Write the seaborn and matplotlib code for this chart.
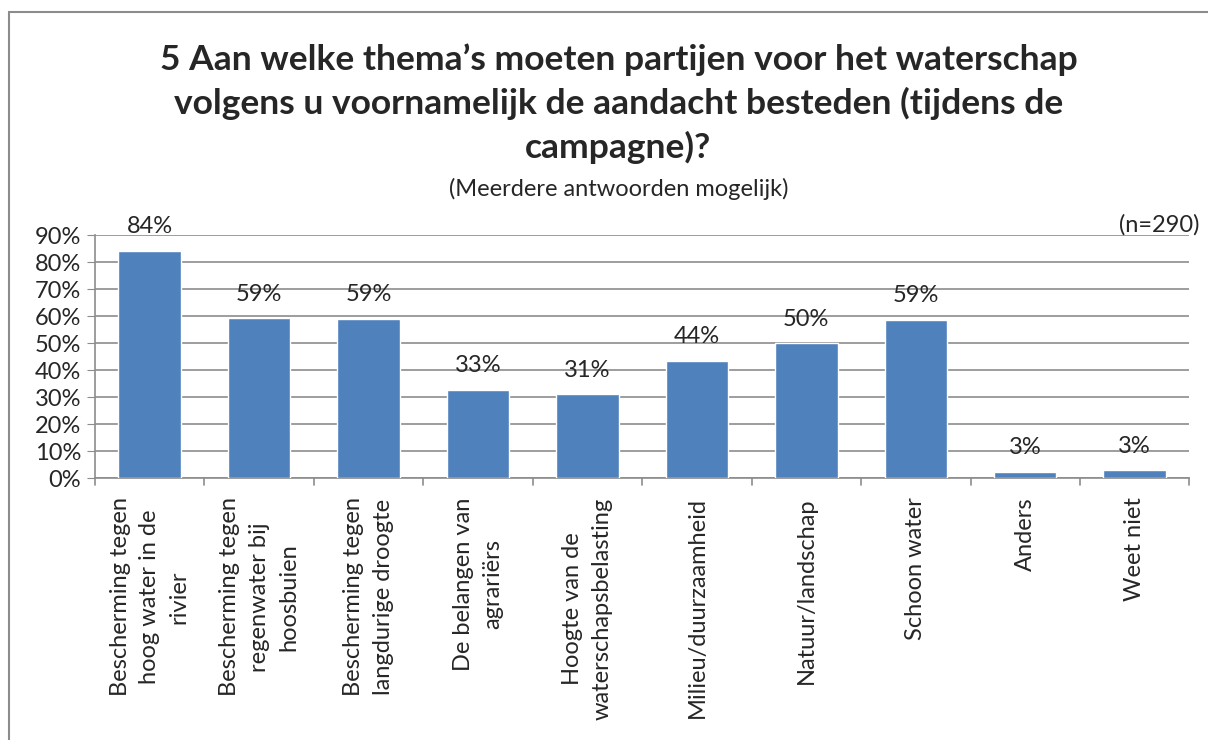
import matplotlib
matplotlib.use("Agg")
import matplotlib.pyplot as plt
import seaborn as sns
import pandas as pd
from matplotlib.patches import Rectangle

categories = [
    "Bescherming tegen\nhoog water in de\nrivier",
    "Bescherming tegen\nregenwater bij\nhoosbuien",
    "Bescherming tegen\nlangdurige droogte",
    "De belangen van\nagrariërs",
    "Hoogte van de\nwaterschapsbelasting",
    "Milieu/duurzaamheid",
    "Natuur/landschap",
    "Schoon water",
    "Anders",
    "Weet niet",
]
values = [84.2, 59.3, 59.0, 32.8, 31.0, 43.5, 50.0, 58.7, 2.4, 2.8]
labels = ["84%", "59%", "59%", "33%", "31%", "44%", "50%", "59%", "3%", "3%"]
yticks = [0, 10, 20, 30, 40, 50, 60, 70, 80, 90]

df = pd.DataFrame({"thema": categories, "pct": values})

sns.set_style("white")
plt.rcParams["font.family"] = ["Lato", "DejaVu Sans"]

fig = plt.figure(figsize=(12.08, 7.40), dpi=100)
ax = fig.add_axes([0.0786, 0.354, 0.906, 0.328])

sns.barplot(data=df, x="thema", y="pct", color="#4F81BD", width=0.57,
            saturation=1, ax=ax, zorder=3)

ax.set_ylim(0, 90)
ax.set_xlim(-0.5, len(categories) - 0.5)
ax.set_yticks(yticks)
ax.set_yticklabels([f"{t}%" for t in yticks], fontsize=17)
ax.yaxis.grid(True, color="#8c8c8c", linewidth=1.2, zorder=0)
ax.set_xlabel("")
ax.set_ylabel("")

# category labels, rotated and centred
ax.set_xticks(range(len(categories)))
ax.set_xticklabels(categories, rotation=90, fontsize=17, ha="center", va="top",
                   multialignment="center", linespacing=1.5)
ax.tick_params(axis="x", length=0, pad=14)
ax.tick_params(axis="y", length=6, color="#8c8c8c", left=True, pad=4)

# tick marks between categories
for b in range(len(categories) + 1):
    ax.plot([b - 0.5, b - 0.5], [0, -0.03], transform=ax.get_xaxis_transform(),
            color="#8c8c8c", lw=1.2, clip_on=False)

for s in ["top", "right"]:
    ax.spines[s].set_visible(False)
for s in ["left", "bottom"]:
    ax.spines[s].set_color("#8c8c8c")
    ax.spines[s].set_linewidth(1.2)

for i, (v, lab) in enumerate(zip(values, labels)):
    ax.text(i, v + 5, lab, ha="center", va="bottom", fontsize=17)

fig.text(0.512, 0.942,
         "5 Aan welke thema\u2019s moeten partijen voor het waterschap\n"
         "volgens u voornamelijk de aandacht besteden (tijdens de\ncampagne)?",
         ha="center", va="top", fontsize=25.5, fontweight="bold", linespacing=1.4)
fig.text(0.512, 0.760, "(Meerdere antwoorden mogelijk)", ha="center", va="top",
         fontsize=17)
fig.text(0.993, 0.682, "(n=290)", ha="right", va="bottom", fontsize=17)

fig.patches.append(Rectangle((9 / 1208, -0.1), 1.2, 1 - 12 / 740 + 0.1,
                             transform=fig.transFigure, fill=False,
                             edgecolor="#8c8c8c", linewidth=1.5))

fig.savefig("out.png", dpi=100)
